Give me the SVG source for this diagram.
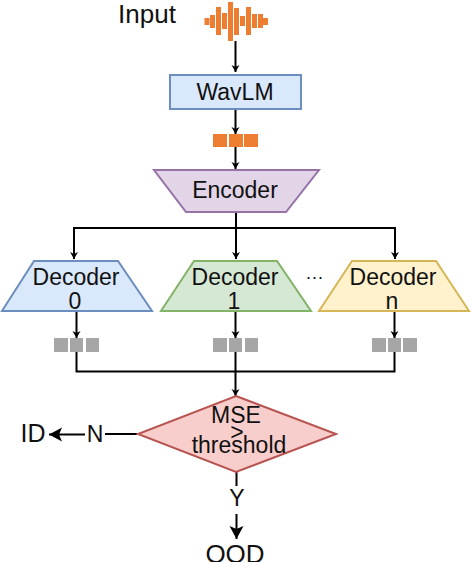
<svg xmlns="http://www.w3.org/2000/svg" width="472" height="562" viewBox="0 0 472 562">
<defs>
<marker id="a" markerUnits="userSpaceOnUse" markerWidth="10" markerHeight="10" refX="7" refY="4" orient="auto"><path d="M0 0L7 4L0 8L2 4Z" fill="#000"/></marker>
<marker id="b" markerUnits="userSpaceOnUse" markerWidth="16" markerHeight="16" refX="13" refY="7" orient="auto"><path d="M0 0L13 7L0 14L3 7Z" fill="#000"/></marker>
</defs>
<style>
text{font-family:"Liberation Sans",Arial,sans-serif;fill:#111;text-anchor:middle}
.t{font-size:23px}
.c{fill:none;stroke:#000;stroke-width:2}
.o{fill:#ed7d31}
.g{fill:#a6a6a6}
</style>
<g id="connectors">
<path class="c" d="M235.500 41V72" marker-end="url(#a)"/>
<path class="c" d="M235.500 110V134" marker-end="url(#a)"/>
<path class="c" d="M235.500 147V169" marker-end="url(#a)"/>
<path class="c" d="M236 212V259" marker-end="url(#a)"/>
<path class="c" d="M236 228H74V259" marker-end="url(#a)"/>
<path class="c" d="M236 228H395V259" marker-end="url(#a)"/>
<path class="c" d="M76.500 311V338" marker-end="url(#a)"/>
<path class="c" d="M235.500 311V338" marker-end="url(#a)"/>
<path class="c" d="M394.500 311V338" marker-end="url(#a)"/>
<path class="c" d="M76.500 352V371.500H394.500V352"/>
<path class="c" d="M235.500 352V396" marker-end="url(#a)"/>
<path class="c" d="M137 434H105"/>
<path class="c" d="M85 434.500H49" marker-end="url(#b)"/>
<path class="c" d="M236.500 472V486"/>
<path class="c" d="M236.500 514V539" marker-end="url(#b)"/>
</g>
<g id="input"><text x="147" y="23" style="font-size:26px">Input</text>
<g class="o"><rect x="204.500" y="18" width="5" height="7"/><rect x="210" y="15" width="5" height="13"/><rect x="216" y="7" width="5" height="28"/><rect x="222" y="13" width="5" height="16"/><rect x="228" y="2" width="5" height="39"/><rect x="234" y="8" width="5" height="27"/><rect x="240" y="16" width="5" height="10"/><rect x="246" y="7" width="5" height="28"/><rect x="252" y="14" width="5" height="14"/><rect x="258" y="14" width="5" height="14"/><rect x="263" y="18" width="5" height="7"/></g></g>
<g id="wavlm"><rect x="170" y="75" width="131" height="34" fill="#dae8fc" stroke="#6c8ebf" stroke-width="2"/><text x="235" y="100" class="t">WavLM</text></g>
<g id="embed-orange" class="o"><rect x="213" y="134" width="14" height="13"/><rect x="229" y="134" width="14" height="13"/><rect x="244" y="134" width="14" height="13"/></g>
<g id="encoder"><path d="M154 170H319L286 212H186Z" fill="#e1d5e7" stroke="#9673a6" stroke-width="2"/><text x="235" y="198" class="t">Encoder</text></g>
<g id="decoder0"><path d="M34 261H118L152 311H2Z" fill="#dae8fc" stroke="#6c8ebf" stroke-width="2"/><text x="76" y="285" class="t">Decoder</text><text x="75" y="309" class="t">0</text></g>
<g id="decoder1"><path d="M194 261H277L311 311H161Z" fill="#d5e8d4" stroke="#82b366" stroke-width="2"/><text x="235" y="285" class="t">Decoder</text><text x="234" y="309" class="t">1</text></g>
<g id="ellipsis"><text x="315" y="279" style="font-size:18px;letter-spacing:1px">...</text></g>
<g id="decodern"><path d="M352 261H436L469 311H319Z" fill="#fff2cc" stroke="#d6b656" stroke-width="2"/><text x="393" y="285" class="t">Decoder</text><text x="392" y="309" class="t">n</text></g>
<g id="embed0" class="g"><rect x="54" y="338" width="14" height="14"/><rect x="70" y="338" width="13" height="14"/><rect x="86" y="338" width="13" height="14"/></g>
<g id="embed1" class="g"><rect x="213" y="338" width="14" height="14"/><rect x="229" y="338" width="13" height="14"/><rect x="245" y="338" width="13" height="14"/></g>
<g id="embedn" class="g"><rect x="372" y="338" width="14" height="14"/><rect x="388" y="338" width="13" height="14"/><rect x="403" y="338" width="14" height="14"/></g>
<g id="decision"><path d="M236 396L336 434L236 472L138 434Z" fill="#f8cecc" stroke="#b85450" stroke-width="2"/><text x="236" y="423" class="t">MSE</text><text x="237" y="440" class="t">&gt;</text><text x="239" y="453" class="t">threshold</text></g>
<g id="labels"><text x="33" y="442" style="font-size:25px">ID</text><text x="95" y="442" class="t">N</text><text x="237" y="506" class="t">Y</text><text x="235" y="563" style="font-size:26px">OOD</text></g>
</svg>
